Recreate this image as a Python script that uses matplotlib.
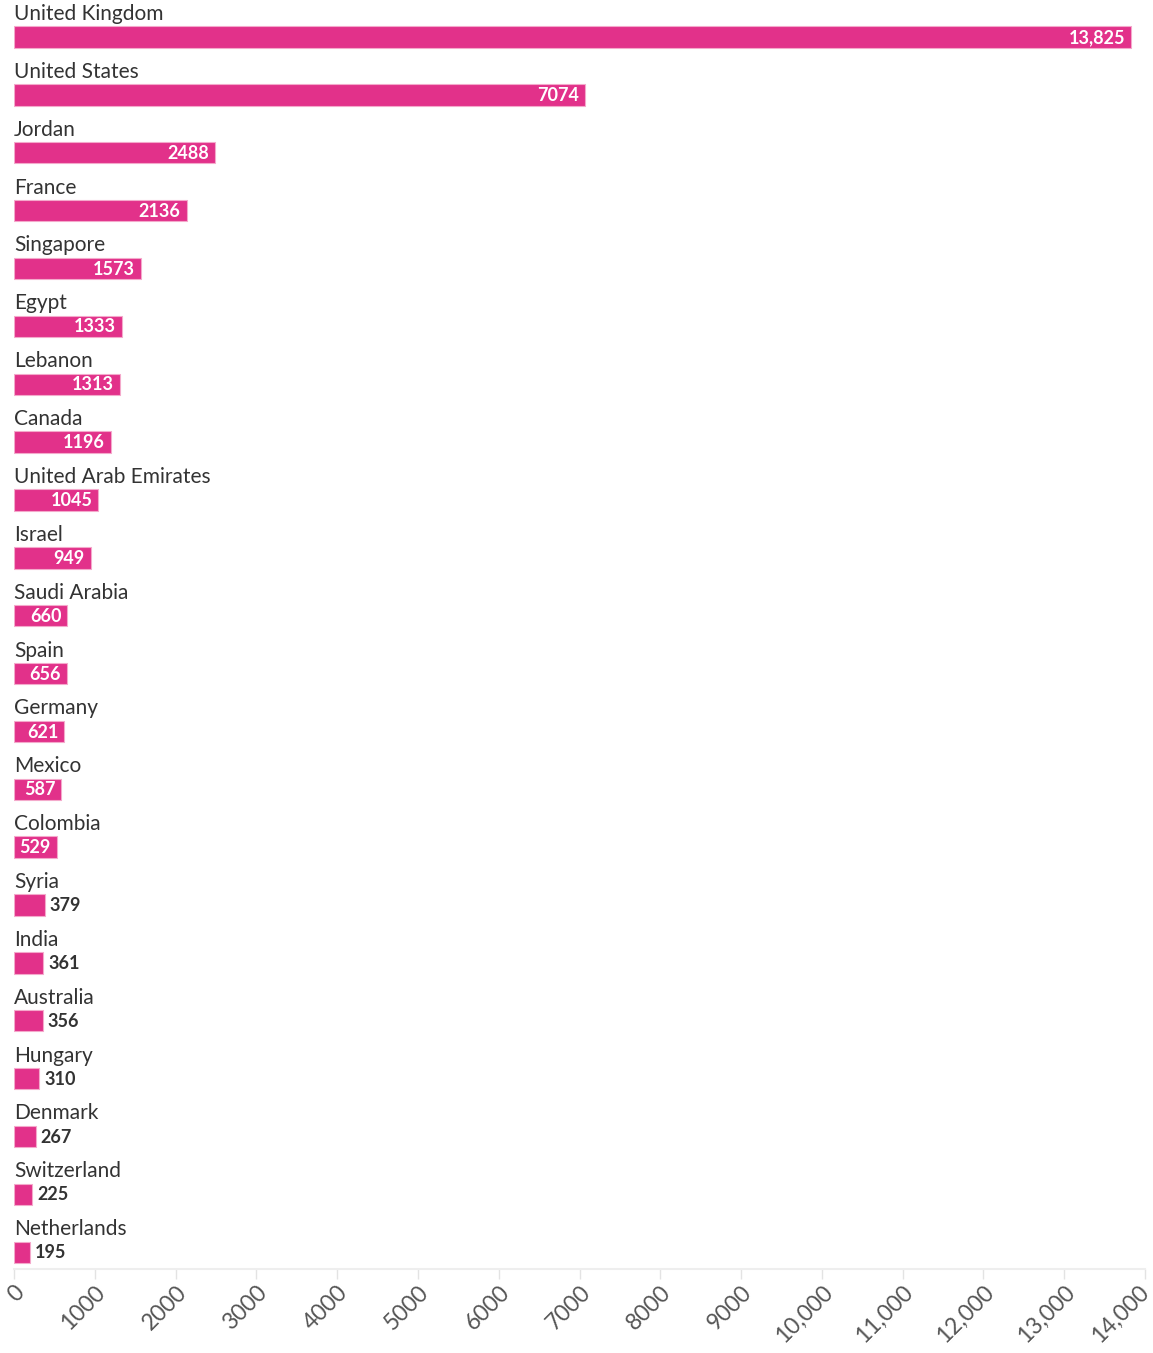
import matplotlib.pyplot as plt
from matplotlib.transforms import ScaledTranslation

countries = ["United Kingdom", "United States", "Jordan", "France", "Singapore",
             "Egypt", "Lebanon", "Canada", "United Arab Emirates", "Israel",
             "Saudi Arabia", "Spain", "Germany", "Mexico", "Colombia", "Syria",
             "India", "Australia", "Hungary", "Denmark", "Switzerland", "Netherlands"]
values = [13825, 7074, 2488, 2136, 1573, 1333, 1313, 1196, 1045, 949,
          660, 656, 621, 587, 529, 379, 361, 356, 310, 267, 225, 195]
xticks = list(range(0, 15000, 1000))

plt.rcParams['font.family'] = ['Lato', 'DejaVu Sans']

W, H = 1153, 1353
fig = plt.figure(figsize=(W / 100, H / 100), dpi=100)
ax = fig.add_axes([14 / W, (H - 1269) / H, (1145 - 14) / W, 1269 / H])

bar_color = '#e2318a'
bar_h = 0.37
ypos = list(range(len(countries)))
ax.barh(ypos, values, height=bar_h, color=bar_color, edgecolor='#f4a9cb', linewidth=0.8)

ax.set_xlim(0, 14000)
ax.set_ylim(21.29, -0.64)

px = 14000 / (1145 - 14)  # data units per pixel
for i, (name, v) in enumerate(zip(countries, values)):
    ax.text(0, i - bar_h / 2 - 0.04, name, ha='left', va='bottom',
            fontsize=15, color='#333333')
    lab = f"{v:,}" if v >= 10000 else str(v)
    if v >= 450:
        ax.text(v - 6 * px, i + 0.01, lab, ha='right', va='center',
                fontsize=13, fontweight='bold', color='white')
    else:
        ax.text(v + 5 * px, i + 0.01, lab, ha='left', va='center',
                fontsize=13, fontweight='bold', color='#333333')

ax.set_xticks(xticks)
ax.set_xticklabels([f"{t:,}" if t >= 10000 else str(t) for t in xticks],
                   rotation=45, ha='right', rotation_mode='anchor',
                   fontsize=16.5, color='#555555')
ax.tick_params(axis='x', length=7, color='#e3e3e3', width=1, pad=2)
# pull the last label in a little so it stays on the canvas
last = ax.get_xticklabels()[-1]
last.set_transform(last.get_transform() + ScaledTranslation(-0.07, 0, fig.dpi_scale_trans))
ax.set_yticks([])
for s in ['top', 'right', 'left']:
    ax.spines[s].set_visible(False)
ax.spines['bottom'].set_color('#eeeeee')
ax.spines['bottom'].set_linewidth(1.5)

fig.savefig('out.png', dpi=100)
